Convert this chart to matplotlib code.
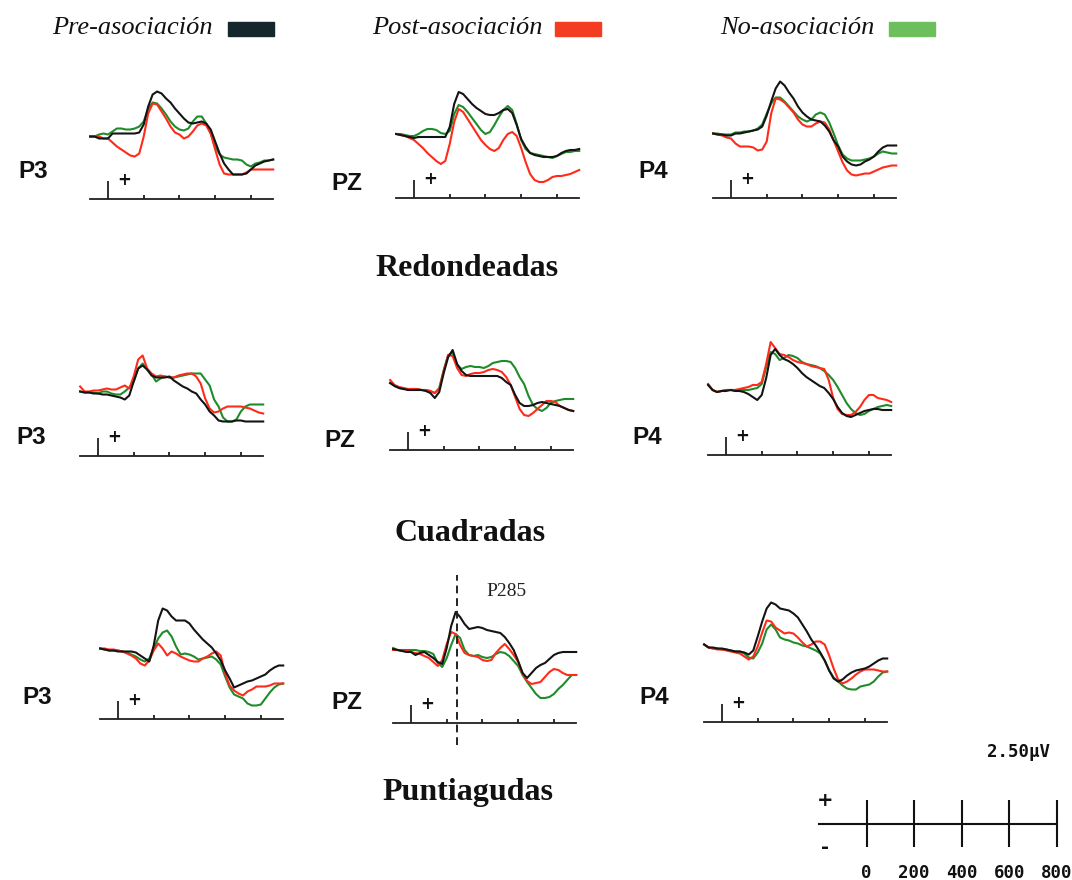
import numpy as np
import matplotlib
matplotlib.use("Agg")
import matplotlib.pyplot as plt
from matplotlib.patches import Rectangle

# ---------------- data ----------------
shapes = ["Redondeadas", "Cuadradas", "Puntiagudas"]
electrodes = ["P3", "PZ", "P4"]
conditions = ["Pre-asociación", "Post-asociación", "No-asociación"]

time_ms = [-100, -75, -50, -25, 0, 25, 50, 75, 100, 125, 150, 175, 200, 225,
           250, 275, 300, 325, 350, 375, 400, 425, 450, 475, 500, 525, 550,
           575, 600, 625, 650, 675, 700, 725, 750, 775, 800, 825, 850, 875,
           900, 925]

# Redondeadas (µV)
red_P3_pre = [0.0, 0.0, -0.2, -0.2, -0.2, 0.3, 0.3, 0.3, 0.3, 0.3, 0.3, 0.4, 1.2, 3.0, 4.2, 4.5, 4.3, 3.8, 3.4, 2.8, 2.3, 1.8, 1.4, 1.3, 1.4, 1.5, 1.3, 0.7, -0.5, -1.7, -2.7, -3.3, -3.8, -3.8, -3.8, -3.7, -3.3, -2.9, -2.7, -2.5, -2.4, -2.3]
red_P3_post = [0.0, 0.0, 0.0, -0.2, -0.2, -0.6, -1.0, -1.3, -1.6, -1.9, -2.0, -1.7, 0.0, 2.3, 3.3, 3.2, 2.5, 1.8, 1.0, 0.4, 0.2, -0.2, 0.0, 0.5, 1.1, 1.3, 1.1, 0.3, -1.3, -2.8, -3.7, -3.8, -3.8, -3.8, -3.8, -3.6, -3.3, -3.3, -3.3, -3.3, -3.3, -3.3]
red_P3_no = [0.0, 0.0, 0.2, 0.3, 0.2, 0.5, 0.8, 0.8, 0.7, 0.7, 0.8, 1.0, 1.5, 2.8, 3.4, 3.3, 2.8, 2.2, 1.5, 1.0, 0.7, 0.6, 0.8, 1.5, 2.0, 2.0, 1.3, 0.3, -1.0, -1.8, -2.1, -2.2, -2.3, -2.3, -2.4, -2.8, -3.0, -2.7, -2.6, -2.4, -2.4, -2.3]

red_PZ_pre = [0.0, -0.1, -0.2, -0.3, -0.4, -0.3, -0.3, -0.3, -0.3, -0.3, -0.3, -0.3, 0.7, 3.0, 4.2, 4.0, 3.5, 3.0, 2.6, 2.3, 2.0, 1.9, 1.9, 2.1, 2.4, 2.5, 2.1, 0.9, -0.5, -1.3, -1.9, -2.1, -2.2, -2.3, -2.3, -2.3, -2.2, -1.9, -1.7, -1.6, -1.6, -1.5]
red_PZ_post = [0.0, -0.1, -0.2, -0.4, -0.6, -1.0, -1.4, -1.9, -2.3, -2.7, -3.0, -2.7, -1.0, 1.2, 2.5, 2.2, 1.5, 0.8, 0.1, -0.6, -1.1, -1.5, -1.7, -1.4, -0.6, 0.0, 0.2, -0.2, -1.4, -2.8, -4.0, -4.6, -4.8, -4.8, -4.6, -4.3, -4.2, -4.2, -4.1, -4.0, -3.8, -3.6]
red_PZ_no = [0.0, 0.0, -0.1, -0.2, -0.2, 0.0, 0.3, 0.5, 0.5, 0.4, 0.1, 0.0, 0.3, 2.0, 2.9, 2.7, 2.2, 1.6, 1.0, 0.4, 0.0, 0.2, 0.9, 1.7, 2.4, 2.8, 2.4, 1.0, -0.6, -1.5, -1.9, -2.0, -2.1, -2.2, -2.3, -2.4, -2.2, -2.0, -1.8, -1.8, -1.7, -1.7]

red_P4_pre = [0.0, -0.1, -0.1, -0.2, -0.2, 0.0, 0.0, 0.1, 0.2, 0.3, 0.4, 0.7, 1.8, 3.2, 4.5, 5.2, 4.8, 4.1, 3.5, 2.7, 2.1, 1.7, 1.4, 1.3, 1.2, 0.8, 0.2, -0.7, -1.3, -2.3, -2.8, -3.1, -3.2, -3.1, -2.8, -2.6, -2.3, -1.8, -1.4, -1.2, -1.2, -1.2]
red_P4_post = [0.0, -0.1, -0.2, -0.4, -0.5, -1.0, -1.3, -1.3, -1.3, -1.4, -1.7, -1.6, -0.8, 2.0, 3.5, 3.4, 3.1, 2.6, 2.1, 1.4, 0.9, 0.7, 0.7, 1.0, 1.2, 1.1, 0.4, -0.7, -1.8, -2.9, -3.7, -4.1, -4.2, -4.1, -4.0, -4.0, -3.8, -3.6, -3.4, -3.3, -3.2, -3.2]
red_P4_no = [0.0, 0.0, -0.1, -0.1, -0.1, 0.1, 0.1, 0.2, 0.2, 0.3, 0.5, 0.9, 2.0, 3.0, 3.6, 3.6, 3.2, 2.7, 2.2, 1.7, 1.4, 1.2, 1.4, 1.9, 2.1, 1.9, 1.1, 0.0, -1.2, -2.1, -2.5, -2.7, -2.7, -2.7, -2.6, -2.5, -2.3, -2.0, -1.8, -1.9, -2.0, -2.0]

# Cuadradas (µV)
cua_P3_pre = [0.0, -0.1, -0.1, -0.2, -0.2, -0.3, -0.3, -0.4, -0.5, -0.6, -0.8, -0.4, 1.0, 2.3, 2.6, 2.2, 1.6, 1.4, 1.4, 1.4, 1.5, 1.1, 0.8, 0.5, 0.3, 0.0, -0.2, -0.8, -1.3, -2.0, -2.4, -2.9, -3.0, -3.0, -3.0, -2.9, -2.9, -3.0, -3.0, -3.0, -3.0, -3.0]
cua_P3_post = [0.5, 0.0, 0.0, 0.1, 0.1, 0.2, 0.3, 0.2, 0.2, 0.4, 0.6, 0.3, 1.5, 3.2, 3.6, 2.3, 1.8, 1.5, 1.6, 1.5, 1.4, 1.4, 1.6, 1.7, 1.8, 1.8, 1.5, 0.8, -0.7, -1.7, -2.1, -2.0, -1.7, -1.5, -1.5, -1.5, -1.5, -1.6, -1.7, -1.9, -2.1, -2.2]
cua_P3_no = [0.0, -0.1, -0.1, -0.1, -0.2, 0.0, 0.0, -0.2, -0.3, -0.3, 0.0, 0.4, 1.0, 2.3, 2.8, 2.2, 1.7, 1.0, 1.3, 1.5, 1.4, 1.4, 1.5, 1.6, 1.7, 1.8, 1.8, 1.8, 1.2, 0.6, -0.8, -1.5, -2.6, -3.0, -3.0, -2.8, -2.0, -1.5, -1.3, -1.3, -1.3, -1.3]

cua_PZ_pre = [0.2, -0.1, -0.3, -0.4, -0.5, -0.5, -0.5, -0.5, -0.6, -0.8, -1.3, -0.7, 1.2, 2.8, 3.5, 2.1, 1.4, 1.0, 0.9, 0.9, 0.9, 0.9, 0.9, 0.9, 0.9, 0.7, 0.3, 0.0, -1.0, -1.8, -2.1, -2.1, -2.0, -1.8, -1.7, -1.8, -1.9, -2.0, -2.1, -2.3, -2.5, -2.6]
cua_PZ_post = [0.5, 0.0, -0.2, -0.3, -0.4, -0.4, -0.4, -0.5, -0.5, -0.6, -0.8, -0.4, 1.4, 3.0, 2.9, 1.7, 1.0, 0.9, 1.1, 1.2, 1.2, 1.3, 1.5, 1.6, 1.5, 1.3, 0.8, 0.0, -1.2, -2.4, -3.0, -3.1, -2.8, -2.4, -2.0, -1.6, -1.6, -1.7, -2.1, -2.3, -2.5, -2.6]
cua_PZ_no = [0.2, -0.1, -0.3, -0.4, -0.4, -0.4, -0.4, -0.5, -0.5, -0.6, -0.8, -0.3, 1.5, 3.0, 3.2, 2.0, 1.6, 1.8, 1.9, 1.8, 1.8, 1.7, 1.9, 2.2, 2.3, 2.4, 2.4, 2.3, 1.7, 0.8, 0.1, -1.1, -2.0, -2.4, -2.6, -2.3, -1.8, -1.6, -1.5, -1.4, -1.4, -1.4]

cua_P4_pre = [0.5, 0.0, -0.2, -0.1, -0.1, 0.0, -0.1, -0.1, -0.2, -0.4, -0.7, -1.0, -0.5, 1.2, 3.5, 4.1, 3.5, 3.1, 2.9, 2.6, 2.2, 1.7, 1.3, 1.0, 0.7, 0.4, 0.2, -0.3, -0.9, -1.7, -2.3, -2.6, -2.7, -2.5, -2.3, -2.1, -2.0, -1.9, -1.9, -2.0, -2.0, -2.0]
cua_P4_post = [0.6, 0.0, -0.2, -0.1, 0.0, 0.0, 0.0, 0.1, 0.2, 0.3, 0.5, 0.5, 0.8, 2.6, 4.8, 4.2, 3.6, 3.5, 3.3, 3.0, 2.8, 2.7, 2.6, 2.4, 2.3, 2.2, 2.1, 1.0, -0.8, -1.9, -2.4, -2.5, -2.5, -2.2, -1.7, -1.0, -0.5, -0.5, -0.8, -0.9, -1.0, -1.2]
cua_P4_no = [0.5, 0.0, -0.2, -0.1, 0.0, 0.0, 0.0, 0.0, 0.0, 0.0, 0.1, 0.2, 0.6, 2.3, 3.8, 3.6, 3.0, 3.2, 3.5, 3.4, 3.2, 2.8, 2.6, 2.5, 2.4, 2.2, 1.9, 1.5, 1.0, 0.3, -0.5, -1.3, -1.9, -2.3, -2.5, -2.4, -2.1, -1.9, -1.7, -1.6, -1.5, -1.6]

# Puntiagudas (µV)
pun_P3_pre = [0.0, -0.1, -0.2, -0.2, -0.3, -0.3, -0.3, -0.3, -0.4, -0.7, -1.0, -1.3, 0.3, 2.8, 4.0, 3.8, 3.2, 2.8, 2.8, 2.8, 2.5, 1.9, 1.4, 0.9, 0.5, 0.1, -0.5, -1.2, -2.2, -3.0, -3.9, -3.7, -3.5, -3.3, -3.2, -3.0, -2.8, -2.6, -2.2, -1.9, -1.7, -1.7]
pun_P3_post = [0.0, 0.0, -0.1, -0.1, -0.2, -0.3, -0.5, -0.7, -1.0, -1.5, -1.7, -1.2, -0.2, 0.5, 0.0, -0.7, -0.3, -0.5, -0.8, -1.0, -1.2, -1.3, -1.3, -1.0, -0.8, -0.5, -0.3, -0.7, -2.5, -3.7, -4.2, -4.5, -4.7, -4.3, -4.1, -3.8, -3.8, -3.8, -3.7, -3.5, -3.5, -3.5]
pun_P3_no = [0.0, -0.1, -0.2, -0.2, -0.2, -0.3, -0.4, -0.6, -0.8, -1.1, -1.3, -1.0, 0.0, 1.0, 1.6, 1.8, 1.2, 0.2, -0.6, -0.5, -0.6, -0.8, -1.1, -1.0, -0.9, -0.8, -1.1, -1.6, -2.8, -3.9, -4.6, -4.8, -5.0, -5.5, -5.7, -5.7, -5.6, -5.0, -4.4, -3.9, -3.6, -3.5]

pun_PZ_pre = [0.1, 0.0, -0.1, -0.2, -0.2, -0.5, -0.3, -0.2, -0.5, -0.8, -1.2, -1.4, 0.2, 2.4, 3.8, 3.3, 2.6, 2.1, 2.2, 2.3, 2.2, 2.0, 1.9, 1.8, 1.7, 1.3, 0.7, 0.0, -1.1, -2.3, -2.8, -2.3, -1.8, -1.5, -1.3, -0.9, -0.5, -0.3, -0.2, -0.2, -0.2, -0.2]
pun_PZ_post = [0.0, 0.0, -0.1, -0.1, -0.2, -0.3, -0.4, -0.6, -0.8, -1.2, -1.6, -1.0, 0.6, 1.8, 1.6, 0.5, -0.3, -0.5, -0.6, -0.7, -1.0, -1.1, -1.0, -0.3, 0.2, 0.6, 0.1, -0.5, -1.2, -2.4, -3.1, -3.4, -3.3, -3.2, -2.7, -2.2, -1.9, -2.0, -2.3, -2.5, -2.5, -2.5]
pun_PZ_no = [0.2, 0.0, 0.0, 0.0, 0.0, 0.0, -0.1, -0.1, -0.2, -0.4, -1.3, -1.7, -0.8, 0.5, 1.6, 1.2, 0.0, -0.5, -0.6, -0.5, -0.7, -0.8, -0.7, -0.4, -0.2, -0.3, -0.6, -1.1, -1.6, -2.5, -3.2, -3.8, -4.4, -4.8, -4.8, -4.7, -4.4, -3.9, -3.5, -3.0, -2.5, -2.5]

pun_P4_pre = [0.2, -0.1, -0.1, -0.2, -0.2, -0.3, -0.4, -0.5, -0.5, -0.6, -0.8, -0.4, 1.0, 2.5, 3.8, 4.4, 4.2, 3.8, 3.7, 3.6, 3.3, 2.9, 2.2, 1.5, 0.7, 0.1, -0.6, -1.4, -2.4, -3.2, -3.5, -3.3, -2.9, -2.6, -2.4, -2.3, -2.2, -2.0, -1.7, -1.4, -1.2, -1.2]
pun_P4_post = [0.2, -0.1, -0.2, -0.3, -0.3, -0.4, -0.5, -0.6, -0.7, -1.0, -1.3, -1.0, 0.0, 1.4, 2.6, 2.5, 1.9, 1.6, 1.3, 1.4, 1.3, 0.9, 0.4, 0.0, 0.2, 0.5, 0.5, 0.2, -0.9, -2.2, -3.3, -3.7, -3.5, -3.2, -2.8, -2.5, -2.3, -2.3, -2.3, -2.4, -2.5, -2.5]
pun_P4_no = [0.2, -0.1, -0.2, -0.2, -0.3, -0.3, -0.4, -0.5, -0.5, -0.7, -1.1, -1.2, -0.6, 0.3, 1.7, 2.2, 1.7, 0.9, 0.7, 0.6, 0.4, 0.3, 0.1, 0.0, -0.2, -0.4, -0.7, -1.4, -2.4, -3.1, -3.5, -3.9, -4.2, -4.3, -4.3, -4.0, -3.9, -3.8, -3.5, -3.0, -2.6, -2.5]

waves = {
    ("Redondeadas", "P3"): (red_P3_pre, red_P3_post, red_P3_no),
    ("Redondeadas", "PZ"): (red_PZ_pre, red_PZ_post, red_PZ_no),
    ("Redondeadas", "P4"): (red_P4_pre, red_P4_post, red_P4_no),
    ("Cuadradas", "P3"): (cua_P3_pre, cua_P3_post, cua_P3_no),
    ("Cuadradas", "PZ"): (cua_PZ_pre, cua_PZ_post, cua_PZ_no),
    ("Cuadradas", "P4"): (cua_P4_pre, cua_P4_post, cua_P4_no),
    ("Puntiagudas", "P3"): (pun_P3_pre, pun_P3_post, pun_P3_no),
    ("Puntiagudas", "PZ"): (pun_PZ_pre, pun_PZ_post, pun_PZ_no),
    ("Puntiagudas", "P4"): (pun_P4_pre, pun_P4_post, pun_P4_no),
}

axis_ticks_ms = [200, 400, 600, 800]
p285_ms = 258
p285_label = "P285"
scale_ticks_ms = [0, 200, 400, 600, 800]
scale_uv = 2.5
scale_label = "2.50µV"

# ---------------- style / layout ----------------
line_colors = ["#141414", "#ff2a1a", "#1f8c2b"]
legend_colors = ["#15272b", "#f43c22", "#6cbf5c"]
W, H = 1072, 880
PX_MS = 0.1786
PX_UV = 10.0
UV_TOP = 8.0

# (stim x, axis y, baseline y, label x, label y) in pixels
layout = {
    ("Redondeadas", "P3"): (108, 199, 136.5, 33, 171),
    ("Redondeadas", "PZ"): (414, 198, 134, 347, 183),
    ("Redondeadas", "P4"): (731, 198, 133.5, 653, 171),
    ("Cuadradas", "P3"): (98, 456, 391.5, 31, 437),
    ("Cuadradas", "PZ"): (408, 450, 385, 340, 440),
    ("Cuadradas", "P4"): (726, 455, 390, 647, 437),
    ("Puntiagudas", "P3"): (118, 719, 648.5, 37, 697),
    ("Puntiagudas", "PZ"): (411, 723, 650, 347, 702),
    ("Puntiagudas", "P4"): (722, 722, 646.5, 654, 697),
}
title_pos = {"Redondeadas": (467, 268), "Cuadradas": (470, 533), "Puntiagudas": (468, 792)}

fig = plt.figure(figsize=(W / 100, H / 100), dpi=100)
fig.patch.set_facecolor("white")


def fx(x):
    return x / W


def fy(y):
    return 1 - y / H


t = np.array(time_ms, dtype=float)
t0, t1 = t[0], t[-1]

for (shape, elec), (sx, ay, by, lx, ly) in layout.items():
    left = sx + t0 * PX_MS
    width = (t1 - t0) * PX_MS
    top = by - UV_TOP * PX_UV
    height = ay - top
    ax = fig.add_axes([fx(left), fy(ay), width / W, height / H])
    ax.patch.set_visible(False)
    ymin = -(ay - by) / PX_UV
    ax.set_xlim(t0, t1)
    ax.set_ylim(ymin, UV_TOP)
    for s in ["top", "right", "left"]:
        ax.spines[s].set_visible(False)
    ax.spines["bottom"].set_linewidth(1.3)
    ax.spines["bottom"].set_color("#202020")
    ax.set_yticks([])
    ax.set_xticks([0])
    ax.set_xticks(axis_ticks_ms, minor=True)
    ax.tick_params(axis="x", which="major", direction="in", length=13, width=1.3,
                   color="#202020", labelbottom=False)
    ax.tick_params(axis="x", which="minor", direction="in", length=3, width=1.3,
                   color="#202020", labelbottom=False)
    pre, post, no = waves[(shape, elec)]
    ax.plot(t, no, color=line_colors[2], lw=1.5, clip_on=False)
    ax.plot(t, post, color=line_colors[1], lw=1.5, clip_on=False)
    ax.plot(t, pre, color=line_colors[0], lw=1.5, clip_on=False)
    ax.text(90, ymin + 1.9, "+", ha="center", va="center", fontsize=12,
            fontweight="bold", color="#111111", family="DejaVu Sans")
    fig.text(fx(lx), fy(ly), elec, ha="center", va="center", fontsize=17.5,
             fontweight="bold", family="Liberation Sans", color="#111111")
    if shape == "Puntiagudas" and elec == "PZ":
        ax.axvline(p285_ms, ymin=(ay - 745) / height, ymax=(ay - 575) / height,
                   color="#222222", lw=1.4, ls=(0, (4, 2.5)), clip_on=False)
        fig.text(fx(506), fy(592), p285_label, ha="center", va="center",
                 fontsize=14, family="Liberation Serif", color="#222222")

for shape, (x, y) in title_pos.items():
    fig.text(fx(x), fy(y), shape, ha="center", va="center", fontsize=23,
             fontweight="bold", family="Liberation Serif", color="#111111")

# legend
legend_text_x = [52, 372, 720]
legend_patch_x = [228, 555, 889]
for name, tx, px, c in zip(conditions, legend_text_x, legend_patch_x, legend_colors):
    fig.text(fx(tx), fy(28), name, ha="left", va="center", fontsize=19,
             style="italic", family="Liberation Serif", color="#111111")
    fig.patches.append(Rectangle((fx(px), fy(36)), 46 / W, 14 / H,
                                 transform=fig.transFigure, color=c, figure=fig))

# scale bar
sax = fig.add_axes([fx(819), fy(847), (1057 - 819) / W, 47 / H])
sax.patch.set_visible(False)
sax.set_axis_off()
sax.set_xlim(-200, max(scale_ticks_ms))
sax.set_ylim(-scale_uv, scale_uv)
sax.axhline(0, color="#111111", lw=1.5, clip_on=False)
sax.vlines(scale_ticks_ms, -scale_uv, scale_uv, color="#111111", lw=1.5, clip_on=False)
for v in scale_ticks_ms:
    sax.text(v, -scale_uv * 2.1, str(v), ha="center", va="center", fontsize=12.5,
             fontweight="bold", family="DejaVu Sans Mono", color="#111111", clip_on=False)
sax.text(-175, scale_uv, "+", ha="center", va="center", fontsize=14,
         fontweight="bold", family="DejaVu Sans", color="#111111", clip_on=False)
sax.text(-175, -scale_uv, "-", ha="center", va="center", fontsize=14,
         fontweight="bold", family="DejaVu Sans", color="#111111", clip_on=False)
sax.text(640, scale_uv * 3.05, scale_label, ha="center", va="center", fontsize=12.5,
         fontweight="bold", family="DejaVu Sans Mono", color="#111111", clip_on=False)

fig.savefig("out.png", dpi=100, facecolor="white")
